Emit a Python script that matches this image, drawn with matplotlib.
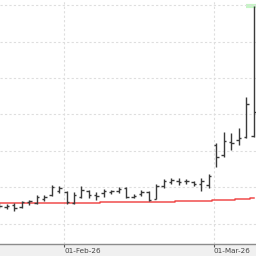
import matplotlib
matplotlib.use("Agg")
import matplotlib.pyplot as plt

# daily OHLC bars, 20-Jan-26 .. 09-Mar-26 (bar index on the x axis)
opens = [105.21, 104.66, 105.21, 104.66, 106.03, 105.75, 106.85, 107.95, 109.04,
         108.77, 105.75, 107.40, 109.04, 107.95, 108.49, 108.77, 109.04, 109.86,
         107.40, 108.22, 108.77, 106.85, 110.41, 111.51, 111.78, 111.78, 111.51,
         110.96, 110.68, 121.64, 118.90, 122.47, 123.01, 123.84, 124.11]
highs = [105.75, 105.48, 105.75, 106.30, 106.58, 107.95, 107.95, 110.68, 110.41,
         109.04, 108.77, 110.41, 109.32, 108.77, 109.59, 109.32, 110.14, 110.14,
         108.22, 109.32, 109.04, 110.96, 112.33, 112.60, 112.60, 112.33, 111.78,
         112.60, 113.70, 122.19, 125.21, 124.93, 126.30, 134.79, 159.73]
lows = [104.38, 104.11, 103.56, 104.38, 105.21, 105.48, 106.30, 107.67, 108.49,
        105.48, 105.48, 107.12, 107.12, 106.58, 107.40, 108.22, 108.49, 107.12,
        107.12, 107.67, 106.30, 106.85, 109.86, 110.96, 110.68, 110.96, 110.41,
        109.04, 109.86, 115.62, 118.36, 120.27, 121.64, 123.56, 123.84]
closes = [104.93, 104.93, 104.38, 106.03, 106.30, 107.40, 107.40, 110.14, 109.86,
          106.03, 107.95, 109.32, 107.95, 107.67, 109.04, 109.04, 109.59, 107.40,
          107.67, 108.77, 106.58, 110.41, 111.78, 112.05, 111.51, 111.78, 110.96,
          111.78, 113.15, 118.36, 122.74, 122.19, 123.56, 132.88, 130.68]
# slow moving average (red line)
ma = [105.62] * 14 + [105.97] * 10 + [106.22, 106.25, 106.30, 106.33, 106.38,
                                      106.49, 106.58, 106.68, 106.79, 106.93, 107.04]

tick_pos = [8.67, 28.67]
tick_labels = ["01-Feb-26", "01-Mar-26"]
grid_vals = [100, 110, 120, 130, 140, 150, 160]

x = list(range(len(opens)))

fig = plt.figure(figsize=(2.56, 2.56), dpi=100, facecolor="#f0f0f0")
ax = fig.add_axes([0, 12 / 256, 1, 244 / 256])
ax.set_facecolor("white")

# grid
ax.set_yticks(grid_vals)
ax.set_xticks(tick_pos)
ax.grid(True, linestyle=(0, (2, 2)), color="#dedede", linewidth=0.8)
ax.set_axisbelow(True)

# moving average
ax.plot(x, ma, color="#f04c4c", linewidth=1.1, drawstyle="steps-mid")

# OHLC bars
bar_col = "#3a3a3a"
ax.vlines(x, lows, highs, color=bar_col, linewidth=1.0)
ax.hlines(opens, [i - 0.33 for i in x], x, color=bar_col, linewidth=1.0)
ax.hlines(closes, x, [i + 0.33 for i in x], color=bar_col, linewidth=1.0)

# highlight of the latest high
ax.hlines(highs[-1], x[-1] - 1.05, x[-1] + 0.6, color="#c6f5c6", linewidth=3, zorder=0.5)

ax.set_xlim(0.107, 34.33)
ax.set_ylim(94.52, 161.37)

for s in ["top", "right", "left"]:
    ax.spines[s].set_visible(False)
ax.spines["bottom"].set_color("#8c8c8c")
ax.spines["bottom"].set_linewidth(1.0)

ax.set_yticklabels([])
ax.tick_params(axis="y", length=0)
ax.set_xticklabels(tick_labels, ha="left",
                   fontdict={"family": ["Liberation Sans Narrow", "DejaVu Sans"], "size": 5.2})
ax.tick_params(axis="x", length=2.5, width=0.8, color="#555555", pad=0.2, labelcolor="#444444")

plt.savefig("out.png", dpi=100, facecolor=fig.get_facecolor())
